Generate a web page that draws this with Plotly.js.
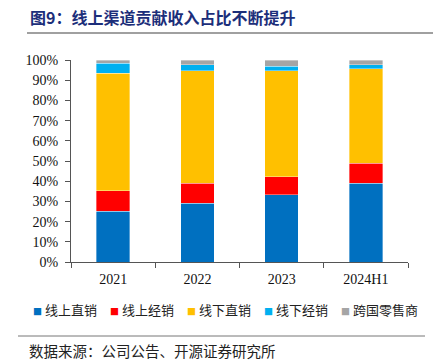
<!DOCTYPE html>
<html><head><meta charset="utf-8">
<script src="https://cdn.plot.ly/plotly-3.0.1.min.js"></script>
<style>html,body{margin:0;padding:0;background:#fff}</style>
</head><body><div id="chart" style="width:436px;height:364px"></div>
<script>
const categories = ["2021", "2022", "2023", "2024H1"];
const seriesNames = ["线上直销", "线上经销", "线下直销", "线下经销", "跨国零售商"];
const onlineDirect = [0.252, 0.290, 0.333, 0.390];
const onlineDist = [0.101, 0.101, 0.089, 0.100];
const offlineDirect = [0.581, 0.556, 0.524, 0.467];
const offlineDist = [0.049, 0.030, 0.024, 0.020];
const crossBorder = [0.017, 0.023, 0.030, 0.023];
const colors = ["#0070C0", "#FF0000", "#FFC000", "#00B0F0", "#A5A5A5"];
const values = [onlineDirect, onlineDist, offlineDirect, offlineDist, crossBorder];

const cjk = '"Noto Sans CJK SC", sans-serif';
const serif = '"Liberation Serif", "Times New Roman", serif';

const traces = values.map((v, i) => ({
  type: 'bar', name: seriesNames[i], x: categories, y: v,
  marker: {color: colors[i], line: {color: 'rgba(255,255,255,0.6)', width: 0.6}},
  width: 0.4, hoverinfo: 'skip', showlegend: false
}));

// plot area: x 71..408 px, y 60..262 px
const L = 71, W = 337, B = 262, H = 202;
const px = x => (x - L) / W;
const py = y => (B - y) / H;

const legendAnn = seriesNames.map((n, i) => ({
  text: '<span style="color:' + colors[i] + ';font-size:9px">■</span> ' + n,
  xref: 'paper', yref: 'paper', x: px(31 + i * 77), xanchor: 'left',
  y: py(309), yanchor: 'middle', showarrow: false,
  font: {family: cjk, size: 13, color: '#222'}
}));

const layout = {
  width: 436, height: 364,
  margin: {l: 71, r: 28, t: 60, b: 102},
  barmode: 'stack',
  paper_bgcolor: '#fff', plot_bgcolor: '#fff',
  showlegend: false,
  xaxis: {type: 'category', showline: true, linecolor: '#555', linewidth: 1,
    ticks: 'outside', tickson: 'boundaries', ticklen: 5, tickcolor: '#555', ticklabelstandoff: 4,
    tickfont: {family: serif, size: 14, color: '#111'}, showgrid: false, zeroline: false},
  yaxis: {range: [0, 1], tickformat: '.0%', dtick: 0.1, showline: true, linecolor: '#555',
    linewidth: 1, ticks: 'outside', ticklen: 5, tickcolor: '#555', showgrid: false, zeroline: false,
    ticklabelstandoff: 4, tickfont: {family: serif, size: 14, color: '#111'}},
  shapes: [
    {type: 'line', xref: 'paper', yref: 'paper', x0: px(27), x1: px(433), y0: py(33), y1: py(33),
      line: {color: '#A0A0A0', width: 2}},
    {type: 'line', xref: 'paper', yref: 'paper', x0: px(18), x1: px(425), y0: py(336), y1: py(336),
      line: {color: '#777', width: 1}}
  ],
  annotations: [
    {text: '<b>图9：线上渠道贡献收入占比不断提升</b>', xref: 'paper', yref: 'paper',
      x: px(28), xanchor: 'left', y: py(17), yanchor: 'middle', showarrow: false,
      font: {family: cjk, size: 16, color: '#1c2e7a'}},
    {text: '数据来源：公司公告、开源证券研究所', xref: 'paper', yref: 'paper',
      x: px(27), xanchor: 'left', y: py(350), yanchor: 'middle', showarrow: false,
      font: {family: cjk, size: 14.5, color: '#222'}}
  ].concat(legendAnn)
};
Plotly.newPlot('chart', traces, layout, {displayModeBar: false, staticPlot: true});
</script></body></html>
